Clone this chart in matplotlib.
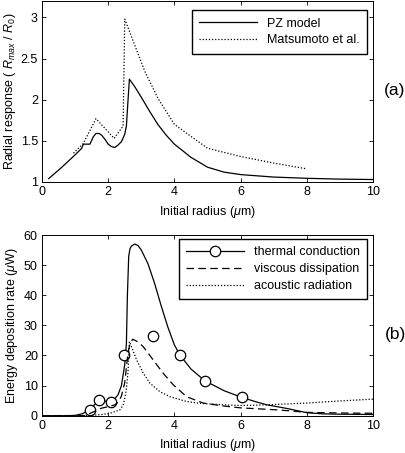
#!/usr/bin/env python3
"""
Radial response and energy deposition rate vs initial radius
"""
import matplotlib
matplotlib.use("Agg")
import matplotlib.pyplot as plt
from matplotlib.lines import Line2D
from matplotlib.ticker import FormatStrFormatter

plt.rcParams['font.family'] = ['Liberation Sans', 'DejaVu Sans']
plt.rcParams['font.size'] = 9
plt.rcParams['mathtext.fontset'] = 'custom'
plt.rcParams['mathtext.rm'] = 'Liberation Sans'
plt.rcParams['mathtext.it'] = 'Liberation Sans:italic'

# (a) radial response
pz_r = [0.2, 0.6, 1.0, 1.2, 1.25, 1.45, 1.55, 1.63, 1.72, 1.8, 1.9, 2.0, 2.1, 2.2,
        2.3, 2.4, 2.5, 2.55, 2.6, 2.64, 2.8, 3.0, 3.25, 3.5, 3.75, 4.0, 4.5, 5.0,
        5.5, 6.0, 7.0, 8.0, 9.0, 10.0]
pz_resp = [1.04, 1.18, 1.33, 1.41, 1.46, 1.46, 1.55, 1.59, 1.59, 1.57, 1.52, 1.46,
           1.43, 1.42, 1.45, 1.49, 1.58, 1.68, 2.0, 2.25, 2.16, 2.03, 1.86, 1.70,
           1.57, 1.46, 1.30, 1.18, 1.12, 1.09, 1.06, 1.045, 1.035, 1.03]
mat_r = [0.95, 1.25, 1.63, 2.18, 2.45, 2.5, 3.1, 3.5, 4.0, 5.0, 6.0, 7.0, 8.0]
mat_resp = [1.35, 1.47, 1.77, 1.53, 1.68, 2.98, 2.35, 2.02, 1.70, 1.41, 1.31, 1.23, 1.16]

# (b) energy deposition rate
th_r = [0.0, 0.8, 1.0, 1.2, 1.45, 1.6, 1.72, 1.85, 2.07, 2.2, 2.3, 2.4, 2.5, 2.55,
        2.58, 2.62, 2.66, 2.7, 2.8, 2.9, 3.0, 3.2, 3.4, 3.6, 3.8, 4.0, 4.17, 4.5,
        4.92, 5.5, 6.03, 6.5, 6.8, 7.4, 8.0, 8.5, 9.0, 10.0]
th_rate = [0.0, 0.0, 0.1, 0.6, 1.9, 3.8, 5.2, 4.9, 4.65, 5.6, 7.0, 10.0, 17.0, 24.0,
           40.0, 53.0, 55.5, 56.3, 57.0, 56.5, 55.0, 50.5, 44.0, 36.5, 29.5, 23.5,
           20.1, 15.5, 11.6, 8.3, 6.1, 4.5, 3.6, 2.4, 1.0, 0.6, 0.5, 0.4]
th_mark_r = [1.45, 1.72, 2.07, 2.48, 3.36, 4.17, 4.92, 6.03]
th_mark = [1.9, 5.2, 4.65, 20.2, 26.4, 20.1, 11.6, 6.1]
vi_r = [0.0, 1.3, 1.6, 1.8, 2.0, 2.2, 2.3, 2.4, 2.5, 2.55, 2.6, 2.66, 2.74, 2.9,
        3.06, 3.36, 3.66, 3.97, 4.37, 4.87, 5.5, 6.0, 7.0, 7.5, 8.0, 9.0, 10.0]
vi_rate = [0.0, 0.0, 1.5, 2.5, 3.0, 3.6, 4.5, 6.5, 11.0, 16.0, 21.0, 24.0, 25.4,
           24.5, 22.9, 18.5, 14.1, 10.2, 6.3, 4.2, 3.2, 2.6, 2.0, 1.6, 1.1, 0.9, 0.8]
ac_r = [0.0, 1.5, 1.8, 2.05, 2.35, 2.45, 2.5, 2.55, 2.6, 2.62, 2.64, 2.7, 2.86,
        3.06, 3.26, 3.56, 3.87, 4.37, 4.77, 5.5, 6.0, 6.5, 7.0, 8.0, 9.0, 10.0]
ac_rate = [0.0, 0.1, 0.4, 0.8, 1.9, 3.5, 5.8, 9.0, 14.6, 20.0, 24.6, 23.0, 18.5,
           14.1, 10.8, 8.0, 6.3, 4.7, 4.1, 3.6, 3.4, 3.5, 3.7, 4.2, 4.9, 5.5]

W, H = 405, 453
fig = plt.figure(figsize=(W / 100, H / 100), dpi=100)
ax1 = fig.add_axes([42 / W, 1 - 182 / H, 331 / W, 181 / H])
ax2 = fig.add_axes([42 / W, 1 - 415.7 / H, 331 / W, 180.7 / H])

dot = (0, (1, 1.5))
dash = (0, (6, 3.5))
leg_kw = dict(loc='upper right', borderaxespad=0, fancybox=False,
              edgecolor='black', framealpha=1, handlelength=4.6,
              labelspacing=0.38, borderpad=0.6)

ax1.plot(pz_r, pz_resp, color='black', lw=0.9, label='PZ model')
ax1.plot(mat_r, mat_resp, color='black', lw=0.9, linestyle=dot, label='Matsumoto et al.')
ax1.set_xlim(0, 10)
ax1.set_ylim(1, 3.2)
ax1.set_yticks([1, 1.5, 2, 2.5, 3])
ax1.yaxis.set_major_formatter(FormatStrFormatter('%g'))
ax1.set_xlabel(r'Initial radius ($\mu$m)')
ax1.set_ylabel(r'Radial response ( $R_{max}$ / $R_0$)', labelpad=2)
ax1.legend(bbox_to_anchor=(0.982, 0.95), **leg_kw)

ax2.plot(th_r, th_rate, color='black', lw=0.9)
ax2.plot(th_mark_r, th_mark, 'o', color='black', mfc='white', ms=7.5, mew=0.9)
ax2.plot(vi_r, vi_rate, color='black', lw=0.9, linestyle=dash, label='viscous dissipation')
ax2.plot(ac_r, ac_rate, color='black', lw=0.9, linestyle=dot, label='acoustic radiation')
ax2.set_xlim(0, 10)
ax2.set_ylim(0, 60)
ax2.set_xlabel(r'Initial radius ($\mu$m)')
ax2.set_ylabel(r'Energy deposition rate ($\mu$W)', labelpad=3)
handles, labels = ax2.get_legend_handles_labels()
th_handle = Line2D([], [], color='black', lw=0.9, marker='o', mfc='white',
                   ms=7.5, mew=0.9, label='thermal conduction')
ax2.legend([th_handle] + handles, ['thermal conduction'] + labels,
           bbox_to_anchor=(0.982, 0.978), **leg_kw)

for ax in (ax1, ax2):
    ax.set_xticks([0, 2, 4, 6, 8, 10])
    ax.tick_params(direction='in', top=True, right=True, length=3, width=0.6, pad=3)
    for sp in ax.spines.values():
        sp.set_linewidth(0.7)

fig.text(395 / W, 1 - 90 / H, '(a)', fontsize=12.5, ha='center', va='center')
fig.text(395 / W, 1 - 335 / H, '(b)', fontsize=12.5, ha='center', va='center')

fig.savefig('out.png', dpi=100)
